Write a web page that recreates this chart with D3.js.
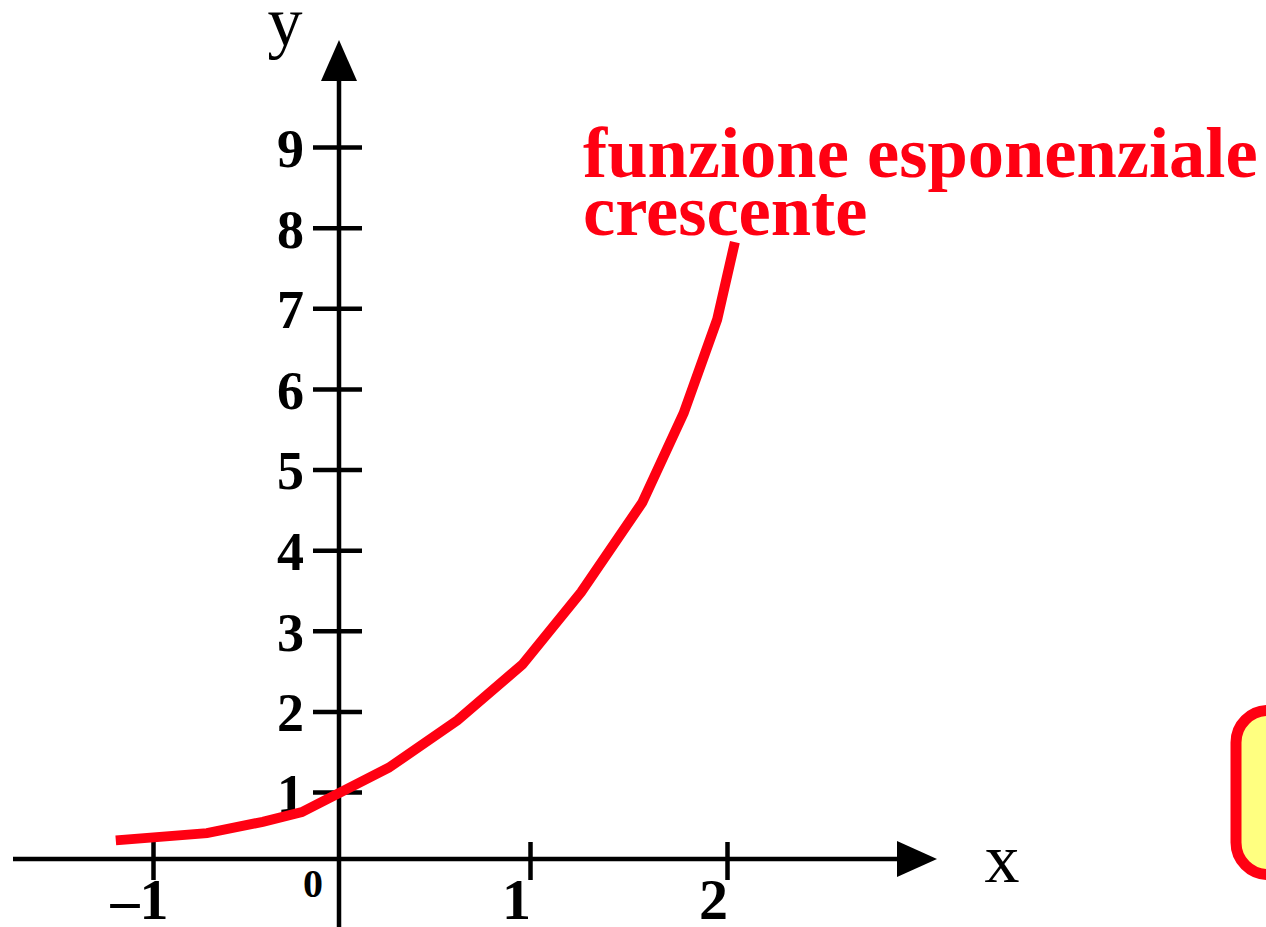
<!DOCTYPE html>
<html>
<head>
<meta charset="utf-8">
<script src="https://cdn.jsdelivr.net/npm/d3@7"></script>
<style>
  body { margin: 0; background: #fff; }
  svg { display: block; }
</style>
</head>
<body>
<div id="chart"></div>
<script>
// tick values
const xTickValues = [-1, 1, 2];
const xTickLabels = ["\u20131", "1", "2"];
const yTickValues = [1, 2, 3, 4, 5, 6, 7, 8, 9];
const originLabel = "0";

// points of the red curve (x, y) in chart units
const curveX = [-1.20, -0.71, -0.41, -0.20, 0.26, 0.62, 0.96, 1.26, 1.57, 1.78, 1.95, 2.04];
const curveY = [0.40, 0.49, 0.63, 0.75, 1.30, 1.89, 2.58, 3.48, 4.59, 5.70, 6.86, 7.82];

const titleLines = ["funzione esponenziale", "crescente"];

function init() {
    const w = 1266;
    const h = 927;
    const red = "#ff0012";
    const serif = "'Liberation Serif', 'Times New Roman', serif";

    // the drawing is hand made, so the x unit is not exactly even
    const x = d3.scaleLinear()
                .domain([-1, 0, 1, 2])
                .range([153, 339, 530, 727]);

    const y = d3.scaleLinear()
                .domain([1, 9])
                .range([792, 147]);

    const axisY = 859;   // x axis sits a bit above y = 0
    const xLeft = 13, xTip = 937;
    const yTop = 40;

    const svg = d3.select("#chart")
                  .append("svg")
                  .attr("width", w)
                  .attr("height", h)
                  .attr("viewBox", [0, 0, w, h]);

    // yellow box cut by the right edge
    svg.append("rect")
       .attr("x", 1236)
       .attr("y", 710.5)
       .attr("width", 300)
       .attr("height", 164)
       .attr("rx", 32)
       .attr("fill", "#ffff80")
       .attr("stroke", red)
       .attr("stroke-width", 11);

    // x axis line + arrow
    svg.append("line")
       .attr("x1", xLeft).attr("x2", xTip - 30)
       .attr("y1", axisY).attr("y2", axisY)
       .attr("stroke", "#000").attr("stroke-width", 4.5);
    svg.append("path")
       .attr("d", `M${xTip},${axisY} L${xTip - 40},${axisY - 18} L${xTip - 40},${axisY + 18} Z`)
       .attr("fill", "#000");

    // y axis line + arrow
    svg.append("line")
       .attr("x1", x(0)).attr("x2", x(0))
       .attr("y1", h).attr("y2", yTop + 30)
       .attr("stroke", "#000").attr("stroke-width", 4.5);
    svg.append("path")
       .attr("d", `M${x(0)},${yTop} L${x(0) - 18},${yTop + 41} L${x(0) + 18},${yTop + 41} Z`)
       .attr("fill", "#000");

    // y ticks
    const yAxis = svg.append("g")
        .attr("transform", `translate(${x(0)},0)`)
        .call(d3.axisLeft(y).tickValues(yTickValues).tickFormat(d3.format("d")))
        .call(g => g.select(".domain").remove());
    yAxis.selectAll(".tick line")
         .attr("x1", -26).attr("x2", 23)
         .attr("stroke", "#000").attr("stroke-width", 4.5);
    yAxis.selectAll(".tick text")
         .attr("x", -35)
         .attr("dy", "0.36em")
         .attr("fill", "#000")
         .style("font-family", serif)
         .style("font-weight", "bold")
         .style("font-size", "54px");

    // x ticks
    const xAxis = svg.append("g")
        .attr("transform", `translate(0,${axisY})`)
        .call(d3.axisBottom(x).tickValues(xTickValues).tickFormat((d, i) => xTickLabels[i]))
        .call(g => g.select(".domain").remove());
    xAxis.selectAll(".tick line")
         .attr("y1", -17).attr("y2", 21)
         .attr("stroke", "#000").attr("stroke-width", 4.5);
    xAxis.selectAll(".tick text")
         .attr("x", -14)
         .attr("y", 60)
         .attr("dy", 0)
         .attr("fill", "#000")
         .style("font-family", serif)
         .style("font-weight", "bold")
         .style("font-size", "58px");

    // origin
    svg.append("text")
       .attr("x", x(0) - 26)
       .attr("y", axisY + 38)
       .attr("text-anchor", "middle")
       .style("font-family", serif)
       .style("font-weight", "bold")
       .style("font-size", "40px")
       .text(originLabel);

    // axis names
    svg.append("text")
       .attr("x", 285).attr("y", 45)
       .attr("text-anchor", "middle")
       .style("font-family", serif)
       .style("font-size", "70px")
       .text("y");
    svg.append("text")
       .attr("x", 1002).attr("y", 882)
       .attr("text-anchor", "middle")
       .style("font-family", serif)
       .style("font-size", "70px")
       .text("x");

    // the curve
    const pts = curveX.map((d, i) => [d, curveY[i]]);
    svg.append("path")
       .datum(pts)
       .attr("d", d3.line().x(d => x(d[0])).y(d => y(d[1])))
       .attr("fill", "none")
       .attr("stroke", red)
       .attr("stroke-width", 10)
       .attr("stroke-linejoin", "miter");

    // title
    svg.append("g")
       .selectAll("text")
       .data(titleLines)
       .join("text")
       .attr("x", 583)
       .attr("y", (d, i) => 177 + i * 58)
       .attr("fill", red)
       .style("font-family", serif)
       .style("font-weight", "bold")
       .style("font-size", "72.5px")
       .text(d => d);
}

window.onload = init;
</script>
</body>
</html>
